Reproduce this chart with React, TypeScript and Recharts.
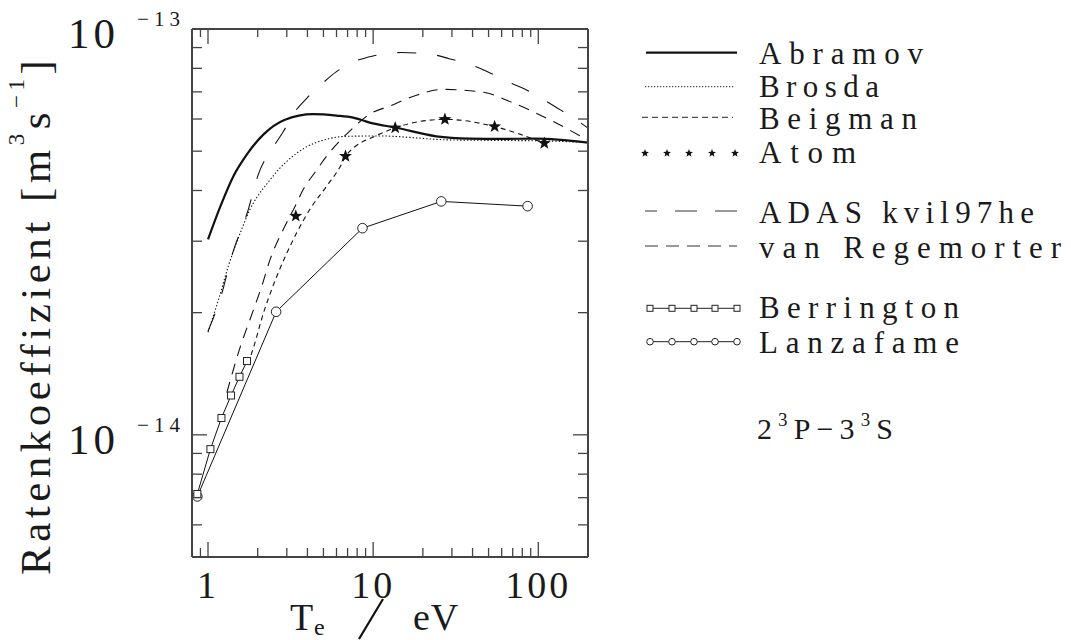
import React from 'react'
import { ComposedChart, Line, XAxis, YAxis } from 'recharts'

const FONT = '"Liberation Serif", "DejaVu Serif", serif'
const INK = '#1a1a1a'
const FRAME = '#444'

// Te in eV, rate coefficient in m^3 s^-1 (2^3P - 3^3S)
const ABRAMOV_TE = [1, 1.19, 1.43, 1.72, 2.17, 2.9, 4.34, 6.0, 7.57, 9.53, 13.8, 24.1, 38.3, 60.8, 96.7, 200]
const ABRAMOV_K = [3.03e-14, 3.66e-14, 4.35e-14, 4.91e-14, 5.5e-14, 5.97e-14, 6.17e-14, 6.12e-14, 6.05e-14, 5.88e-14, 5.71e-14, 5.44e-14, 5.37e-14, 5.36e-14, 5.37e-14, 5.25e-14]

const BROSDA_TE = [1, 1.16, 1.33, 1.6, 1.8, 2.02, 2.27, 2.67, 3.0, 3.78, 5.23, 6.88, 11, 28.9, 73, 110, 200]
const BROSDA_K = [1.79e-14, 2.16e-14, 2.61e-14, 3.21e-14, 3.6e-14, 3.9e-14, 4.15e-14, 4.5e-14, 4.72e-14, 5.07e-14, 5.35e-14, 5.44e-14, 5.45e-14, 5.33e-14, 5.31e-14, 5.3e-14, 5.25e-14]

const BEIGMAN_TE = [1.75, 1.885, 2.17, 2.43, 3.45, 4.15, 5.23, 6.43, 6.8, 10.9, 13.6, 27.2, 54.4, 108.8]
const BEIGMAN_K = [1.5e-14, 1.64e-14, 2.0e-14, 2.28e-14, 3.15e-14, 3.6e-14, 4.1e-14, 4.64e-14, 4.86e-14, 5.5e-14, 5.71e-14, 5.99e-14, 5.75e-14, 5.23e-14]

const ATOM_TE = [3.4, 6.8, 13.6, 27.2, 54.4, 108.8]
const ATOM_K = [3.46e-14, 4.86e-14, 5.71e-14, 5.99e-14, 5.75e-14, 5.23e-14]

const ADAS_TE = [1, 1.2, 1.4, 1.72, 2.02, 2.5, 2.86, 3.28, 3.96, 4.76, 6.0, 7.57, 10, 14.8, 22.5, 28.9, 38.2, 49.3, 63.9, 80.3, 106, 131, 168, 200]
const ADAS_K = [1.8e-14, 2.2e-14, 2.78e-14, 3.5e-14, 4.39e-14, 5.14e-14, 5.59e-14, 6.17e-14, 6.75e-14, 7.25e-14, 7.85e-14, 8.29e-14, 8.58e-14, 8.75e-14, 8.66e-14, 8.45e-14, 8.18e-14, 7.85e-14, 7.43e-14, 7.16e-14, 6.72e-14, 6.38e-14, 5.99e-14, 5.7e-14]

const VREG_TE = [1.3, 1.57, 1.8, 2.12, 2.38, 2.86, 3.37, 3.78, 4.44, 5.23, 6.14, 7.24, 9.53, 12.6, 18.3, 26.4, 46, 73.2, 116, 200]
const VREG_K = [1.27e-14, 1.65e-14, 1.93e-14, 2.33e-14, 2.71e-14, 3.21e-14, 3.66e-14, 4.03e-14, 4.43e-14, 4.86e-14, 5.25e-14, 5.61e-14, 6.17e-14, 6.46e-14, 6.87e-14, 7.1e-14, 6.99e-14, 6.53e-14, 5.99e-14, 5.32e-14]

const BERRINGTON_TE = [0.862, 1.034, 1.206, 1.379, 1.551, 1.723]
const BERRINGTON_K = [7.15e-15, 9.22e-15, 1.1e-14, 1.25e-14, 1.39e-14, 1.52e-14]

const LANZAFAME_TE = [0.862, 2.585, 8.617, 25.85, 86.17]
const LANZAFAME_K = [7.05e-15, 2.01e-14, 3.23e-14, 3.76e-14, 3.66e-14]

const X_TICKS = [0.9, 1, 2, 3, 4, 5, 6, 7, 8, 9, 10, 20, 30, 40, 50, 60, 70, 80, 90, 100, 200]
const X_MAJOR = [1, 10, 100]
const X_MAJOR_LABELS = ['1', '10', '100']
const Y_TICKS = [6e-15, 7e-15, 8e-15, 9e-15, 1e-14, 2e-14, 3e-14, 4e-14, 5e-14, 6e-14, 7e-14, 8e-14, 9e-14, 1e-13]
const Y_MAJOR = [1e-14, 1e-13]
const Y_EXPONENTS = ['\u221214', '\u221213']

const LEGEND_LABELS = ['Abramov', 'Brosda', 'Beigman', 'Atom', 'ADAS kvil97he', 'van Regemorter', 'Berrington', 'Lanzafame']

const pts = (te: number[], k: number[]) => te.map((t, i) => ({ te: t, k: k[i] }))

const majorIndex = (list: number[], v: number) =>
  list.findIndex(m => Math.abs(Math.log10(m) - Math.log10(v)) < 1e-6)

function starPath(cx: number, cy: number, R: number, r: number) {
  let d = ''
  for (let i = 0; i < 10; i++) {
    const a = -Math.PI / 2 + (i * Math.PI) / 5
    const rad = i % 2 === 0 ? R : r
    d += (i === 0 ? 'M' : 'L') + (cx + rad * Math.cos(a)).toFixed(2) + ',' + (cy + rad * Math.sin(a)).toFixed(2)
  }
  return d + 'Z'
}

const BottomTick = ({ x, y, payload }: any) => {
  const idx = majorIndex(X_MAJOR, payload.value)
  return (
    <g>
      <line x1={x} x2={x} y1={y} y2={y - (idx >= 0 ? 15 : 9)} stroke={FRAME} strokeWidth={1.3} />
      {idx >= 0 && (
        <text x={x} y={y + 41} textAnchor="middle" fontFamily={FONT} fontSize={38} letterSpacing={3} fill={INK}>
          {X_MAJOR_LABELS[idx]}
        </text>
      )}
    </g>
  )
}

const TopTick = ({ x, y, payload }: any) => {
  const major = majorIndex(X_MAJOR, payload.value) >= 0
  return <line x1={x} x2={x} y1={y} y2={y + (major ? 15 : 8)} stroke={FRAME} strokeWidth={1.3} />
}

const LeftTick = ({ x, y, payload }: any) => {
  const idx = majorIndex(Y_MAJOR, payload.value)
  return (
    <g>
      <line x1={x} x2={x + (idx >= 0 ? 15 : 10)} y1={y} y2={y} stroke={FRAME} strokeWidth={1.3} />
      {idx >= 0 && (
        <text fontFamily={FONT} fill={INK}>
          <tspan x={x - 124} y={y + 19} fontSize={43} letterSpacing={4}>10</tspan>
          <tspan x={x - 55} y={y - 3} fontSize={21} textLength={43} lengthAdjust="spacing">{Y_EXPONENTS[idx]}</tspan>
        </text>
      )}
    </g>
  )
}

const RightTick = ({ x, y, payload }: any) => {
  const major = majorIndex(Y_MAJOR, payload.value) >= 0
  return <line x1={x} x2={x - (major ? 15 : 10)} y1={y} y2={y} stroke={FRAME} strokeWidth={1.3} />
}

const StarDot = (p: any) => <path key={p.index} d={starPath(p.cx, p.cy, 6.8, 2.8)} fill="#111" />
const SquareDot = (p: any) => (
  <rect key={p.index} x={p.cx - 3.5} y={p.cy - 3.5} width={7} height={7} fill="#fff" stroke="#222" strokeWidth={1} />
)
const CircleDot = (p: any) => <circle key={p.index} cx={p.cx} cy={p.cy} r={4.8} fill="#fff" stroke="#222" strokeWidth={1} />

const LEGEND_ROWS = [
  { line: 52.7, base: 64.3, width: 164 },
  { line: 86.7, base: 96.7, width: 120 },
  { line: 117.3, base: 129.3, width: 158 },
  { line: 153.3, base: 163.3, width: 97 },
  { line: 211, base: 222.7, width: 275 },
  { line: 246, base: 257.7, width: 302 },
  { line: 308.3, base: 318.3, width: 200 },
  { line: 341.7, base: 352.7, width: 200 },
]
const MARK_X = [650, 672, 694, 715, 737]

function LegendSample({ i, y }: { i: number; y: number }) {
  switch (i) {
    case 0:
      return <line x1={646} x2={737} y1={y} y2={y} stroke="#111" strokeWidth={2.2} />
    case 1:
      return <line x1={645} x2={734} y1={y} y2={y} stroke="#222" strokeWidth={1} strokeDasharray="1.3 1.7" />
    case 2:
      return <line x1={642} x2={733} y1={y} y2={y} stroke="#222" strokeWidth={1} strokeDasharray="6 4" />
    case 3:
      return <g>{[645, 667, 689, 712, 735].map(x => <path key={x} d={starPath(x, y, 4.2, 1.8)} fill="#111" />)}</g>
    case 4:
      return <line x1={737} x2={645} y1={y} y2={y} stroke="#333" strokeWidth={1} strokeDasharray="22 18" />
    case 5:
      return <line x1={645} x2={737} y1={y} y2={y} stroke="#333" strokeWidth={1} strokeDasharray="13 8" />
    case 6:
      return (
        <g>
          <line x1={648} x2={740} y1={y} y2={y} stroke="#222" strokeWidth={1} />
          {MARK_X.map(x => <rect key={x} x={x - 3} y={y - 3} width={6} height={6} fill="#fff" stroke="#222" strokeWidth={1} />)}
        </g>
      )
    default:
      return (
        <g>
          <line x1={648} x2={740} y1={y} y2={y} stroke="#222" strokeWidth={1} />
          {MARK_X.map(x => <circle key={x} cx={x} cy={y} r={3.3} fill="#fff" stroke="#222" strokeWidth={1} />)}
        </g>
      )
  }
}

export default function App() {
  const axisLine = { stroke: FRAME, strokeWidth: 2 }
  const xCommon = {
    type: 'number' as const, scale: 'log' as const, domain: [0.8, 200], ticks: X_TICKS, interval: 0 as const,
    tickSize: 0, tickMargin: 0, tickLine: false, allowDataOverflow: true, axisLine,
  }
  const yCommon = {
    type: 'number' as const, scale: 'log' as const, domain: [5e-15, 1e-13], ticks: Y_TICKS, interval: 0 as const,
    tickSize: 0, tickMargin: 0, tickLine: false, allowDataOverflow: true, axisLine,
  }
  const curve = { xAxisId: 'b', yAxisId: 'l', dataKey: 'k', dot: false, activeDot: false, isAnimationActive: false, stroke: '#111' }

  return (
    <div style={{ position: 'absolute', left: 0, top: 0, width: 1071, height: 640, background: '#fff' }}>
      <ComposedChart width={1071} height={640} margin={{ top: 0, right: 0, bottom: 0, left: 0 }}>
        <XAxis xAxisId="b" dataKey="te" orientation="bottom" height={83} tick={<BottomTick />} {...xCommon} />
        <XAxis xAxisId="t" dataKey="te" orientation="top" height={29} tick={<TopTick />} {...xCommon} />
        <YAxis yAxisId="l" orientation="left" width={192} tick={<LeftTick />} {...yCommon} />
        <YAxis yAxisId="r" orientation="right" width={483} tick={<RightTick />} {...yCommon} />

        <Line {...curve} data={pts(LANZAFAME_TE, LANZAFAME_K)} type="linear" strokeWidth={1} dot={CircleDot} />
        <Line {...curve} data={pts(BERRINGTON_TE, BERRINGTON_K)} type="linear" strokeWidth={1} dot={SquareDot} />
        <Line {...curve} data={pts(ADAS_TE, ADAS_K)} type="monotone" strokeWidth={1.1} strokeDasharray="19 21" />
        <Line {...curve} data={pts(VREG_TE, VREG_K)} type="monotone" strokeWidth={1.1} strokeDasharray="11 8" />
        <Line {...curve} data={pts(BEIGMAN_TE, BEIGMAN_K)} type="monotone" strokeWidth={1.1} strokeDasharray="5 4" />
        <Line {...curve} data={pts(BROSDA_TE, BROSDA_K)} type="monotone" strokeWidth={1.1} strokeDasharray="1.4 2" />
        <Line {...curve} data={pts(ABRAMOV_TE, ABRAMOV_K)} type="monotone" strokeWidth={2.2} />
        <Line {...curve} data={pts(ATOM_TE, ATOM_K)} type="linear" stroke="none" dot={StarDot} />
      </ComposedChart>

      <svg width={1071} height={640} style={{ position: 'absolute', left: 0, top: 0, pointerEvents: 'none' }}>
        <g fontFamily={FONT} fill={INK}>
          {/* y axis title */}
          <text transform="translate(50,575) rotate(-90)" fontSize={43} letterSpacing={4.5}>
            <tspan>Ratenkoeffizient [m</tspan>
            <tspan dy={-26} fontSize={23}>3</tspan>
            <tspan dy={26}>s</tspan>
            <tspan dy={-26} fontSize={23}>{'\u22121'}</tspan>
            <tspan dy={26}>]</tspan>
          </text>

          {/* x axis title */}
          <text x={290} y={630} fontSize={38}>T</text>
          <text x={314} y={635} fontSize={24}>e</text>
          <line x1={383} y1={599} x2={359} y2={639} stroke="#111" strokeWidth={2.2} />
          <text x={413} y={630} fontSize={38} letterSpacing={1}>eV</text>

          {/* legend */}
          {LEGEND_LABELS.map((label, i) => (
            <g key={label}>
              <LegendSample i={i} y={LEGEND_ROWS[i].line} />
              <text x={759} y={LEGEND_ROWS[i].base} fontSize={31} textLength={LEGEND_ROWS[i].width} lengthAdjust="spacing">
                {label}
              </text>
            </g>
          ))}

          <text x={757} y={439} fontSize={30} textLength={136} lengthAdjust="spacing">
            <tspan>2</tspan>
            <tspan dy={-13} fontSize={19}>3</tspan>
            <tspan dy={13}>P{'\u2212'}3</tspan>
            <tspan dy={-13} fontSize={19}>3</tspan>
            <tspan dy={13}>S</tspan>
          </text>
        </g>
      </svg>
    </div>
  )
}
